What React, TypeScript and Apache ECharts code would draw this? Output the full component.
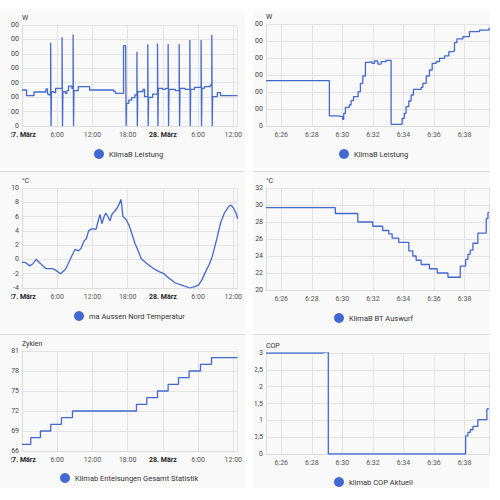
import React, { useEffect, useRef } from "react";
import * as echarts from "echarts";

// ---------- data ----------
const DAY_LABELS = ["27. März", "28. März"];
const MINUTE_PREFIX = "6:";

// Panel 1: KlimaB Leistung (W), hours since 27. März 0:00
const POWER_DAY: [number, number][] = [
  [0, 499], [0.77, 420], [2.04, 471], [4.08, 513], [4.35, 443], [4.63, 430],
  [4.88, 1155], [4.95, 0], [5.02, 476], [5.45, 462], [5.73, 522],
  [6.83, 1229], [6.9, 0], [6.97, 476], [7.38, 453], [7.66, 490], [7.93, 554], [8.48, 522],
  [8.71, 1270], [8.78, 0], [8.85, 490], [9.04, 490], [9.59, 545], [11.52, 499], [14.0, 499], [15.65, 476], [15.92, 453],
  [17.3, 1113], [17.66, 1100], [17.74, 0], [17.8, 314], [18.2, 360], [18.68, 393], [19.23, 430],
  [19.58, 1030], [19.65, 0], [19.72, 476], [20.06, 476], [20.61, 508], [20.88, 406],
  [21.43, 1132], [21.5, 0], [21.57, 397], [22.26, 443],
  [23.09, 1145], [23.16, 0], [23.23, 522], [23.91, 508], [24.46, 522],
  [24.9, 1136], [24.97, 0], [25.04, 508], [26.12, 490],
  [26.78, 1136], [26.85, 0], [26.92, 522], [27.77, 508],
  [28.6, 1192], [28.67, 0], [28.74, 508], [29.42, 536],
  [30.52, 1192], [30.59, 0], [30.66, 522], [31.07, 545], [32.07, 568],
  [32.34, 1261], [32.41, 0], [32.48, 406], [33.28, 462], [33.83, 420], [36.7, 420],
];

// Panel 2: KlimaB Leistung (W), minutes after 6:00 on 28. März
const POWER_ZOOM: [number, number][] = [
  [25, 533], [29.15, 118], [29.69, 110], [30.02, 78], [30.09, 149], [30.2, 220], [30.46, 247],
  [30.57, 298], [30.73, 345], [31.03, 404], [31.18, 502], [31.34, 588], [31.51, 749], [31.77, 757],
  [31.94, 737], [32.1, 765], [32.32, 729], [32.54, 757], [32.86, 773], [33.19, 20], [33.84, 20],
  [33.91, 90], [34.06, 149], [34.17, 227], [34.35, 294], [34.5, 365], [34.65, 431], [35.16, 455],
  [35.27, 502], [35.49, 588], [35.7, 659], [35.88, 737], [36.14, 757], [36.36, 796], [36.69, 824],
  [36.97, 875], [37.23, 882], [37.34, 980], [37.5, 1024], [37.89, 1051], [38.32, 1110], [38.98, 1129],
  [39.6, 1157],
];

// Panel 3: Aussen Nord Temperatur (°C), hours since 27. März 0:00
const TEMP_OUT: [number, number][] = [
  [0, -0.4], [0.5, -0.4], [1.32, -0.9], [1.87, -0.6], [2.42, 0.0], [4.08, -1.3], [5.18, -1.3],
  [5.73, -1.5], [6.56, -2.0], [7.38, -1.4], [7.93, -0.5], [8.6, 0.7], [9.04, 1.4], [9.59, 1.2],
  [10.03, 1.5], [10.58, 2.6], [10.96, 2.9], [11.35, 4.0], [11.9, 4.3], [12.62, 4.2], [12.89, 5.1],
  [13.28, 6.3], [13.61, 5.0], [14.0, 6.0], [14.27, 6.5], [14.71, 5.9], [14.99, 5.4], [15.37, 6.4],
  [15.76, 6.7], [16.2, 7.2], [16.53, 7.7], [16.86, 8.4], [17.02, 7.4], [17.19, 6.0], [17.74, 5.6],
  [18.29, 4.7], [18.68, 3.7], [19.23, 2.3], [19.78, 1.2], [20.33, 0.1], [21.16, -0.5], [22.26, -1.2],
  [23.36, -1.7], [24.19, -2.0], [25.01, -2.6], [26.12, -3.3], [27.22, -3.6], [28.6, -4.0],
  [29.42, -3.8], [30.08, -3.6], [30.63, -2.9], [31.35, -1.6], [31.9, -0.7], [32.45, 0.5],
  [33.17, 2.8], [33.83, 5.1], [34.49, 6.5], [35.21, 7.4], [35.59, 7.6], [36.03, 7.2], [36.47, 6.5],
  [36.75, 5.7],
];

// Panel 4: KlimaB BT Auswurf (°C), minutes after 6:00
const TEMP_BT: [number, number][] = [
  [25, 29.7], [29.54, 29.0], [31.01, 28.0], [31.99, 27.5], [32.64, 27.0], [33.04, 26.6],
  [33.26, 26.1], [33.69, 25.6], [34.35, 24.6], [34.61, 24.0], [34.83, 23.5], [35.16, 23.0],
  [35.7, 22.5], [36.21, 22.0], [36.91, 21.5], [37.72, 22.8], [38.07, 23.6], [38.22, 24.2],
  [38.37, 24.7], [38.55, 25.5], [38.87, 26.7], [39.42, 28.4], [39.53, 29.1], [39.6, 29.1],
];

// Panel 5: Enteisungen (Zyklen), hours since 27. März 0:00
const CYCLES: [number, number][] = [
  [0, 67], [1.49, 68], [3.14, 69], [4.9, 70], [6.72, 71], [8.6, 72], [19.5, 73], [21.27, 74],
  [23.09, 75], [24.9, 76], [26.67, 77], [28.48, 78], [30.41, 79], [32.29, 80], [36.7, 80],
];

// Panel 6: COP Aktuell, minutes after 6:00
const COP: [number, number][] = [
  [25, 3.0], [28.75, 3.03], [29.08, 0], [38.07, 0.54], [38.22, 0.64], [38.37, 0.72],
  [38.55, 0.82], [38.87, 1.02], [39.46, 1.34], [39.6, 1.34],
];

const DAY_RANGE = [0, 36.7];
const MIN_RANGE = [25, 39.6];

// ---------- styling ----------
const BLUE = "#4269d0";
const FONT = "Roboto, 'Noto Sans', sans-serif";
const PAD = 40;

type Rect = { x: number; y: number; w: number; h: number };
type Spec = {
  card: Rect;
  borderTop: boolean;
  clipLeft: number;
  plot: { l: number; t: number; r: number; b: number };
  legend: { cx: number; cy: number };
  name: string;
  unit: string;
  data: [number, number][];
  step: false | "end";
  daily: boolean;
  y: { min: number; max: number; interval: number; comma?: boolean };
};

const LEFT = { x: 0, w: 245, clip: 11 };
const RIGHT = { x: 253, w: 237, clip: 255 };

const SPECS: Spec[] = [
  {
    card: { x: LEFT.x, y: 10, w: LEFT.w, h: 158 }, borderTop: false, clipLeft: LEFT.clip,
    plot: { l: 22, t: 25, r: 245, b: 126 }, legend: { cx: 99, cy: 154 },
    name: "KlimaB Leistung", unit: "W", data: POWER_DAY, step: "end", daily: true,
    y: { min: 0, max: 1400, interval: 200 },
  },
  {
    card: { x: RIGHT.x, y: 10, w: RIGHT.w, h: 158 }, borderTop: false, clipLeft: RIGHT.clip,
    plot: { l: 266, t: 24, r: 489, b: 126 }, legend: { cx: 344, cy: 154 },
    name: "KlimaB Leistung", unit: "W", data: POWER_ZOOM, step: "end", daily: false,
    y: { min: 0, max: 1200, interval: 200 },
  },
  {
    card: { x: LEFT.x, y: 171, w: LEFT.w, h: 161 }, borderTop: true, clipLeft: LEFT.clip,
    plot: { l: 22, t: 188, r: 245, b: 288 }, legend: { cx: 79, cy: 316 },
    name: "ma Aussen Nord Temperatur", unit: "°C", data: TEMP_OUT, step: false, daily: true,
    y: { min: -4, max: 10, interval: 2 },
  },
  {
    card: { x: RIGHT.x, y: 171, w: RIGHT.w, h: 161 }, borderTop: true, clipLeft: RIGHT.clip,
    plot: { l: 266, t: 188, r: 489, b: 290 }, legend: { cx: 339, cy: 318 },
    name: "KlimaB BT Auswurf", unit: "°C", data: TEMP_BT, step: "end", daily: false,
    y: { min: 20, max: 32, interval: 2 },
  },
  {
    card: { x: LEFT.x, y: 334, w: LEFT.w, h: 154 }, borderTop: true, clipLeft: LEFT.clip,
    plot: { l: 22, t: 351, r: 245, b: 451 }, legend: { cx: 65, cy: 478 },
    name: "Klimab Enteisungen Gesamt Statistik", unit: "Zyklen", data: CYCLES, step: "end", daily: true,
    y: { min: 66, max: 81, interval: 3 },
  },
  {
    card: { x: RIGHT.x, y: 334, w: RIGHT.w, h: 154 }, borderTop: true, clipLeft: RIGHT.clip,
    plot: { l: 266, t: 353, r: 489, b: 454 }, legend: { cx: 339, cy: 482 },
    name: "klimab COP Aktuell", unit: "COP", data: COP, step: "end", daily: false,
    y: { min: 0, max: 3, interval: 0.5, comma: true },
  },
];

function buildOption(s: Spec) {
  const chartX = s.clipLeft - PAD;
  const chartY = s.card.y;
  const xAxisBase: any = {
    type: "value",
    axisLine: { show: true, onZero: false, lineStyle: { color: "#dcdcdc" } },
    axisTick: { show: false },
    splitLine: { show: true, lineStyle: { color: "#e3e3e3", width: 1 } },
  };
  const xAxis = s.daily
    ? {
        ...xAxisBase,
        min: DAY_RANGE[0],
        max: DAY_RANGE[1],
        interval: 6,
        axisLabel: {
          fontSize: 7, color: "#555", margin: 5, fontFamily: FONT,
          showMinLabel: true, showMaxLabel: false,
          formatter: (v: number) =>
            v % 24 === 0 ? `{b|${DAY_LABELS[Math.round(v / 24)]}}` : `${v % 24}:00`,
          rich: { b: { fontWeight: "bold", fontSize: 7, color: "#222", fontFamily: FONT } },
        },
      }
    : {
        ...xAxisBase,
        min: MIN_RANGE[0],
        max: MIN_RANGE[1],
        splitNumber: 7,
        axisLabel: {
          fontSize: 7, color: "#555", margin: 5, fontFamily: FONT,
          showMinLabel: false, showMaxLabel: false,
          formatter: (v: number) => `${MINUTE_PREFIX}${v}`,
        },
      };
  return {
    animation: false,
    textStyle: { fontFamily: FONT },
    grid: {
      left: s.plot.l - chartX,
      top: s.plot.t - chartY,
      width: s.plot.r - s.plot.l,
      height: s.plot.b - s.plot.t,
      containLabel: false,
    },
    legend: {
      show: true,
      data: [s.name],
      left: s.legend.cx - 5 - chartX,
      top: s.legend.cy - 5 - chartY,
      icon: "circle",
      itemWidth: 10,
      itemHeight: 10,
      padding: 0,
      textStyle: { fontSize: 7.5, color: "#333", fontFamily: FONT },
    },
    xAxis,
    yAxis: {
      type: "value",
      min: s.y.min,
      max: s.y.max,
      interval: s.y.interval,
      name: s.unit,
      nameLocation: "end",
      nameGap: 4,
      nameTextStyle: { align: "left", fontSize: 7, color: "#333", fontFamily: FONT },
      axisLine: { show: true, lineStyle: { color: "#dcdcdc" } },
      axisTick: { show: false },
      splitLine: { show: true, lineStyle: { color: "#e3e3e3", width: 1 } },
      axisLabel: {
        fontSize: 7, color: "#444", margin: 3, fontFamily: FONT,
        formatter: (v: number) => (s.y.comma ? String(v).replace(".", ",") : String(v)),
      },
    },
    series: [
      {
        type: "line",
        name: s.name,
        data: s.data,
        step: s.step,
        showSymbol: false,
        clip: true,
        lineStyle: { width: 1.3, color: BLUE },
        itemStyle: { color: BLUE },
      },
    ],
  };
}

function Panel({ spec }: { spec: Spec }) {
  const ref = useRef<HTMLDivElement>(null);
  useEffect(() => {
    if (!ref.current) return;
    const chart = echarts.init(ref.current, null, { renderer: "svg" });
    chart.setOption(buildOption(spec) as any);
    return () => chart.dispose();
  }, [spec]);
  const { card } = spec;
  const clipW = card.x + card.w - spec.clipLeft;
  return (
    <div
      style={{
        position: "absolute",
        left: card.x,
        top: card.y,
        width: card.w,
        height: card.h,
        background: "#f9f9f9",
        borderTop: spec.borderTop ? "1px solid #dadada" : "none",
        boxSizing: "border-box",
      }}
    >
      <div
        style={{
          position: "absolute",
          left: spec.clipLeft - card.x,
          top: spec.borderTop ? -1 : 0,
          width: clipW,
          height: card.h,
          overflow: "hidden",
        }}
      >
        <div
          ref={ref}
          style={{ position: "absolute", left: -PAD, top: 0, width: clipW + PAD, height: card.h }}
        />
      </div>
    </div>
  );
}

export default function App() {
  return (
    <div
      style={{
        position: "fixed",
        left: 0,
        top: 0,
        width: 500,
        height: 500,
        background: "#ffffff",
        overflow: "hidden",
      }}
    >
      {SPECS.map((s, i) => (
        <Panel key={i} spec={s} />
      ))}
    </div>
  );
}
